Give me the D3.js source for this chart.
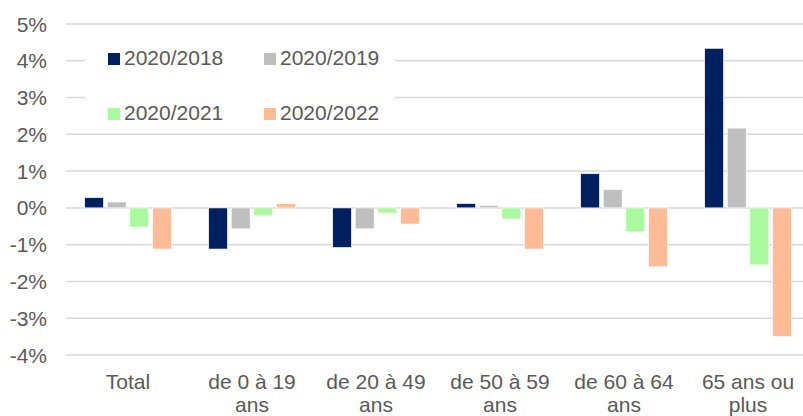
<!DOCTYPE html>
<html>
<head>
    <meta charset="utf-8">
    <style>
        body { margin: 0; background: #fff; }
        svg { display: block; font-family: 'Liberation Sans', Arial, sans-serif; }
    </style>
</head>
<body>
<svg width="803" height="416"></svg>
<script src="https://d3js.org/d3.v7.min.js"></script>
<script>
    // categories (two-line labels)
    let categories = ["Total", "de 0 à 19 ans", "de 20 à 49 ans", "de 50 à 59 ans", "de 60 à 64 ans", "65 ans ou plus"]
    let labelLines = [["Total"], ["de 0 à 19", "ans"], ["de 20 à 49", "ans"], ["de 50 à 59", "ans"], ["de 60 à 64", "ans"], ["65 ans ou", "plus"]]

    let seriesNames = ["2020/2018", "2020/2019", "2020/2021", "2020/2022"]
    let s2018 = [0.28, -1.12, -1.08, 0.12, 0.93, 4.34]
    let s2019 = [0.16, -0.57, -0.57, 0.07, 0.50, 2.17]
    let s2021 = [-0.52, -0.20, -0.14, -0.30, -0.65, -1.55]
    let s2022 = [-1.12, 0.12, -0.44, -1.12, -1.60, -3.50]
    let yTicks = [-4, -3, -2, -1, 0, 1, 2, 3, 4, 5]

    let colors = ["#002060", "#bfbfbf", "#a9fa9c", "#ffbb95"]
    let allSeries = [s2018, s2019, s2021, s2022]

    let svg = d3.select("svg")
    let left = 66, right = 803

    let y = d3.scaleLinear().domain([-4, 5]).range([355, 24])

    // plot area runs a bit past the window edge, like the original
    let x = d3.scaleBand()
        .domain(categories)
        .range([left, 810])
        .paddingInner(0.3)
        .paddingOuter(0.15)

    let xs = d3.scaleBand()
        .domain(seriesNames)
        .range([0, x.bandwidth()])
        .paddingInner(0.16)

    // gridlines
    svg.selectAll(".grid")
        .data(yTicks)
        .join("line")
        .attr("x1", left)
        .attr("x2", right)
        .attr("y1", d => y(d))
        .attr("y2", d => y(d))
        .style("stroke", "#d9d9d9")
        .style("stroke-width", 1.5)

    // y labels
    svg.selectAll(".ylab")
        .data(yTicks)
        .join("text")
        .attr("x", 47)
        .attr("y", d => y(d))
        .attr("dy", "0.36em")
        .attr("text-anchor", "end")
        .style("font-size", "21px")
        .style("fill", "#595959")
        .text(d => d + "%")

    // bars
    let rows = []
    categories.forEach((c, i) => {
        seriesNames.forEach((s, j) => {
            rows.push({ cat: c, series: s, value: allSeries[j][i], color: colors[j] })
        })
    })

    svg.selectAll(".bar")
        .data(rows)
        .join("rect")
        .attr("x", d => x(d.cat) + xs(d.series))
        .attr("width", xs.bandwidth())
        .attr("y", d => Math.min(y(d.value), y(0)))
        .attr("height", d => Math.abs(y(d.value) - y(0)))
        .style("fill", d => d.color)
        .style("stroke", "#fff")
        .style("stroke-width", 0.7)

    // category labels
    let catText = svg.selectAll(".cat")
        .data(categories)
        .join("text")
        .attr("x", d => x(d) + x.bandwidth() / 2)
        .attr("y", 389)
        .attr("text-anchor", "middle")
        .style("font-size", "21px")
        .style("fill", "#595959")

    catText.selectAll("tspan")
        .data((d, i) => labelLines[i])
        .join("tspan")
        .attr("x", function () { return d3.select(this.parentNode).attr("x") })
        .attr("dy", (d, i) => i == 0 ? 0 : 23)
        .text(d => d)

    // legend (white box hides gridlines behind it)
    svg.append("rect")
        .attr("x", 85).attr("y", 32)
        .attr("width", 310).attr("height", 94)
        .style("fill", "#fff")

    let legendPos = [[108, 65], [264, 65], [108, 120], [264, 120]]
    let lg = svg.selectAll(".legend")
        .data(seriesNames)
        .join("g")
        .attr("transform", (d, i) => `translate(${legendPos[i][0]},${legendPos[i][1]})`)

    lg.append("rect")
        .attr("x", 0).attr("y", -12)
        .attr("width", 12).attr("height", 12)
        .style("fill", (d, i) => colors[i])

    lg.append("text")
        .attr("x", 16)
        .attr("y", 0)
        .style("font-size", "21px")
        .style("fill", "#595959")
        .text(d => d)
</script>
</body>
</html>
